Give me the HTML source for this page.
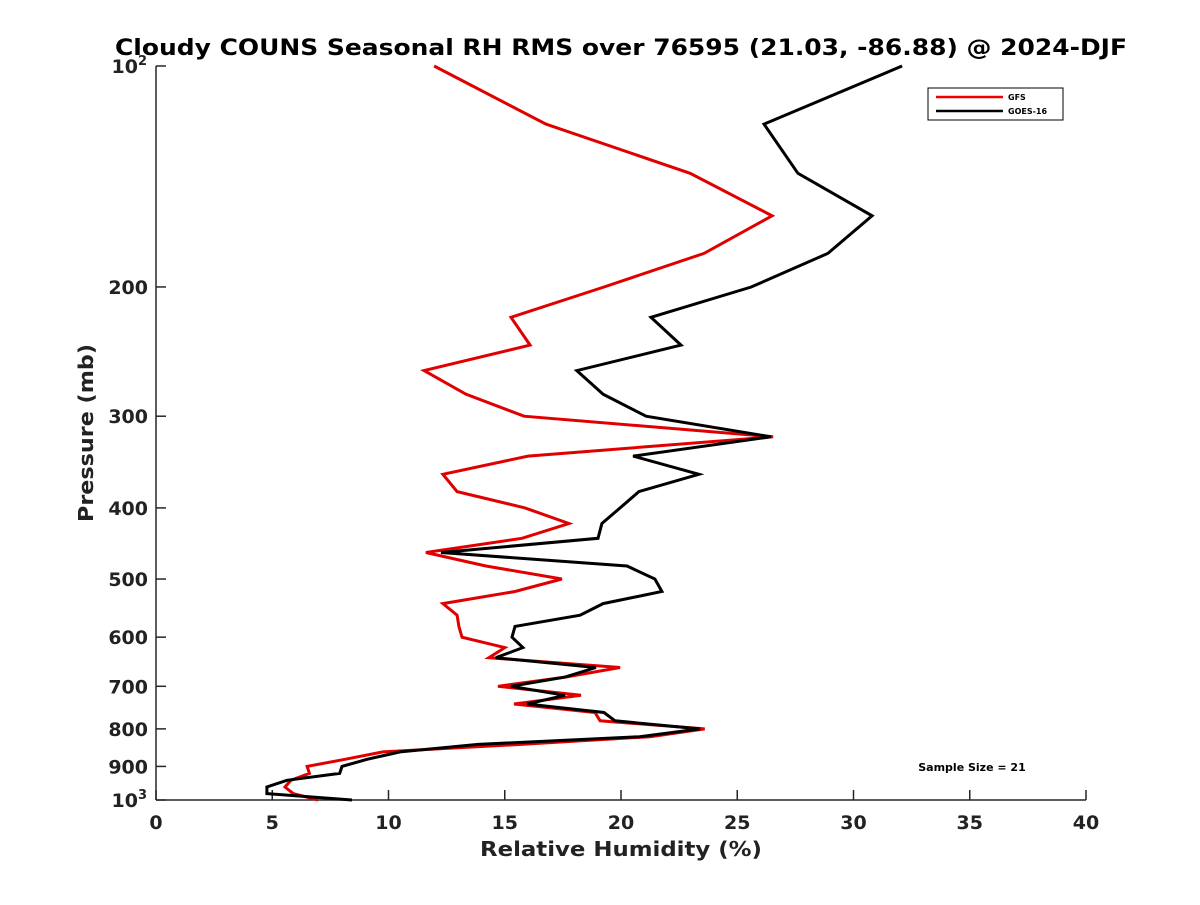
<!DOCTYPE html>
<html><head><meta charset="utf-8"><style>
body{margin:0;background:#fff;}
svg text{font-family:"DejaVu Sans","Liberation Sans",sans-serif;font-weight:bold;fill:#222;}
</style></head><body>
<svg id="chart" width="1200" height="900" viewBox="0 0 1200 900">
<rect width="1200" height="900" fill="#fff"/>
<text x="621" y="55" text-anchor="middle" font-size="22" textLength="1012" lengthAdjust="spacingAndGlyphs" style="fill:#000">Cloudy COUNS Seasonal RH RMS over 76595 (21.03, -86.88) @ 2024-DJF</text>
<g id="axes"></g>
<g id="series"></g>
<g>
<rect x="928" y="88" width="135" height="32" fill="#fff" stroke="#000" stroke-width="1"/>
<line x1="936" y1="97" x2="1003" y2="97" stroke="#e00" stroke-width="2.5"/>
<text x="1008" y="100" font-size="8" style="fill:#000">GFS</text>
<line x1="936" y1="111" x2="1003" y2="111" stroke="#000" stroke-width="2.5"/>
<text x="1008" y="114" font-size="8" style="fill:#000">GOES-16</text>
</g>
<text x="972" y="771" text-anchor="middle" font-size="11" style="fill:#000">Sample Size = 21</text>
<text x="621" y="856" text-anchor="middle" font-size="20" textLength="282" lengthAdjust="spacingAndGlyphs">Relative Humidity (%)</text>
<text transform="translate(93,433) rotate(-90)" text-anchor="middle" font-size="20" textLength="178" lengthAdjust="spacingAndGlyphs">Pressure (mb)</text>
</svg>
<script>
const pressureLevels=[100,120,140,160,180,200,220,240,260,280,300,320,340,360,380,400,420,440,460,480,500,520,540,560,580,600,620,640,660,680,700,720,740,760,780,800,820,840,860,880,900,920,940,960,980,1000];
const gfsValues=[11.96,16.77,22.97,26.5,23.57,19.27,15.27,16.09,11.53,13.33,15.83,26.54,16.0,12.34,12.95,15.87,17.76,15.74,11.61,14.19,17.46,15.44,12.34,12.95,13.03,13.16,15.0,14.32,19.96,17.6,14.71,18.28,15.4,18.88,19.1,23.6,21.25,15.7,9.76,8.13,6.5,6.6,5.8,5.55,5.9,6.97];
const goesValues=[32.09,26.15,27.61,30.8,28.9,25.6,21.29,22.58,18.1,19.23,21.08,26.45,20.52,23.35,20.77,19.96,19.18,19.01,12.26,20.26,21.46,21.76,19.23,18.24,15.44,15.31,15.78,14.62,18.92,17.59,15.27,17.59,15.96,19.27,19.74,23.4,20.8,13.85,10.5,9.08,8.0,7.9,5.63,4.77,4.77,8.43];
const xTicks=[0,5,10,15,20,25,30,35,40];
const yTicks=[200,300,400,500,600,700,800,900];

const NS='http://www.w3.org/2000/svg';
const L=156,R=1086,T=66,B=800;
const xs=v=>L+(R-L)*v/40;
const ys=p=>T+(B-T)*Math.log10(p/100);
function mk(tag,attrs,parent){const e=document.createElementNS(NS,tag);for(const k in attrs)e.setAttribute(k,attrs[k]);parent.appendChild(e);return e;}
const ax=document.getElementById('axes');
let a=mk('line',{x1:L,y1:T,x2:L,y2:B,stroke:'#262626','stroke-width':1.5},ax);


a=mk('line',{x1:L,y1:B,x2:R,y2:B,stroke:'#262626','stroke-width':1.5},ax);


xTicks.forEach(v=>{
  const x=xs(v);
  const t=mk('line',{x1:x,y1:B,x2:x,y2:B-10,stroke:'#262626','stroke-width':1.5},ax);
  
  
  const tx=mk('text',{x:x,y:B+29,'text-anchor':'middle','font-size':19},ax);
  tx.textContent=v;
  
  
});
yTicks.forEach(p=>{
  const y=ys(p);
  const t=mk('line',{x1:L,y1:y,x2:L+10,y2:y,stroke:'#262626','stroke-width':1.5},ax);
  
  
  const tx=mk('text',{x:L-8,y:y+7,'text-anchor':'end','font-size':19},ax);
  tx.textContent=p;
  
  
});
[[100,'2'],[1000,'3']].forEach(([p,e])=>{
  const y=ys(p);
  const t=mk('line',{x1:L,y1:y,x2:L+10,y2:y,stroke:'#262626','stroke-width':1.5},ax);
  
  
  const tx=mk('text',{x:L-9,y:y+7,'text-anchor':'end','font-size':19},ax);
  tx.innerHTML='10<tspan dy="-8" font-size="13">'+e+'</tspan>';
  
  
});
const sg=document.getElementById('series');
function line(vals,color,name){
  const pts=vals.map((v,i)=>xs(v).toFixed(1)+','+ys(pressureLevels[i]).toFixed(1)).join(' ');
  const pl=mk('polyline',{points:pts,fill:'none',stroke:color,'stroke-width':3,'stroke-linejoin':'miter'},sg);
  
  
}
line(gfsValues,'#e00000','gfs-line');
line(goesValues,'#000000','goes16-line');
</script>
</body></html>
